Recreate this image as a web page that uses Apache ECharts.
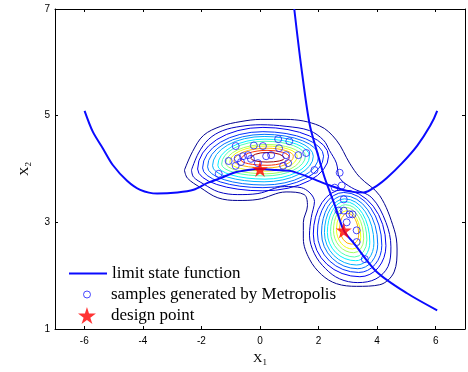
<!DOCTYPE html>
<html>
<head>
<meta charset="utf-8">
<script src="https://cdn.jsdelivr.net/npm/echarts@6/dist/echarts.min.js"></script>
<style>html,body{margin:0;padding:0;background:#fff}#main{width:468px;height:372px}</style>
</head>
<body>
<div id="main"></div>
<script>
var xTicks = [-6, -4, -2, 0, 2, 4, 6];
var yTicks = [1, 3, 5, 7];

// limit state function, two branches
var limitLeft = [[-5.99,5.09],[-5.71,4.70],[-5.37,4.39],[-5.02,4.07],[-4.54,3.78],[-4.09,3.61],[-3.51,3.54],
  [-2.82,3.56],[-2.27,3.61],[-1.79,3.74],[-1.34,3.83],[-0.89,3.93],[-0.41,3.98],[0,4.0],[0.55,3.98],
  [1.07,3.96],[1.75,3.83],[2.34,3.70],[2.96,3.59],[3.54,3.56],[4.0,3.69],[4.33,3.83],[4.85,4.11],
  [5.37,4.44],[5.81,4.81],[6.05,5.09]];
var limitRight = [[1.17,7.0],[1.41,5.91],[1.69,4.85],[1.96,4.30],[2.2,3.85],[2.55,3.33],[2.86,2.85],
  [3.23,2.59],[3.99,2.07],[5.02,1.67],[6.05,1.35]];

var samples = [[-1.41,3.91],[-1.07,4.15],[-0.76,4.20],[-0.58,4.24],[-0.41,4.26],[-0.83,4.43],[-0.21,4.44],
  [0.10,4.43],[-0.83,4.06],[-0.65,4.13],[-0.07,4.11],[0.21,4.24],[0.38,4.26],[0.65,4.39],[0.62,4.56],
  [1.00,4.52],[0.89,4.26],[0.96,4.11],[0.79,4.06],[1.31,4.26],[1.58,4.30],[1.86,3.98],[2.72,3.93],
  [2.79,3.69],[2.55,3.65],[-0.31,4.19],[2.86,3.43],[2.68,3.22],[2.86,3.22],[3.06,3.15],[3.16,3.15],
  [2.96,3.00],[3.30,2.85],[3.30,2.63],[3.58,2.31]];

var designPoints = [[0, 4.0], [2.86, 2.85]];

// contour levels, outer to inner
var levelColors = ['#000090','#0000c0','#0000f0','#0030ff','#0070ff','#00b0ff','#00f0ff',
  '#50ffb0','#a0ff60','#f0ff10','#ffb000','#ff3000','#a00000'];

// two outer levels enclose both clusters
var outer0 = [[-2.58,3.98],[-2.30,4.33],[-1.93,4.63],[-1.34,4.80],[-0.65,4.89],[0.03,4.93],[0.89,4.93],
  [2.03,4.81],[2.61,4.54],[3.06,4.11],[3.40,3.85],[4.09,3.50],[4.58,2.87],[4.68,2.50],[4.58,2.07],
  [4.09,1.83],[3.30,1.80],[2.61,1.85],[2.10,2.02],[1.69,2.31],[1.48,2.69],[1.48,3.00],[1.62,3.31],
  [1.51,3.52],[0.89,3.57],[-0.07,3.43],[-0.76,3.41],[-1.44,3.46],[-2.03,3.65],[-2.48,3.83],[-2.58,3.98]];
var outer1 = [[-2.34,3.98],[-2.10,4.30],[-1.75,4.56],[-1.27,4.72],[-0.65,4.80],[0.03,4.83],[0.89,4.80],
  [1.69,4.72],[2.17,4.54],[2.37,4.35],[2.61,4.11],[2.72,3.83],[3.13,3.65],[3.82,3.46],[4.30,3.00],
  [4.47,2.54],[4.37,2.17],[3.96,1.94],[3.34,1.87],[2.72,1.94],[2.24,2.13],[1.86,2.41],[1.69,2.76],
  [1.75,3.09],[1.86,3.39],[1.41,3.65],[0.83,3.67],[-0.07,3.54],[-0.76,3.52],[-1.41,3.57],[-1.93,3.72],
  [-2.27,3.85],[-2.34,3.98]];

// inner rings: left, top, right, bottom extreme points [x,y,x,y,x,y,x,y], from level 2 up
var leftRings = [
  [-2.13,4.00, 0.10,4.78, 2.34,4.24, 0.10,3.59],
  [-1.96,4.02, 0.10,4.70, 2.17,4.24, 0.10,3.65],
  [-1.79,4.04, 0.14,4.65, 2.00,4.24, 0.14,3.70],
  [-1.62,4.06, 0.14,4.61, 1.82,4.24, 0.14,3.76],
  [-1.44,4.07, 0.17,4.56, 1.69,4.24, 0.17,3.81],
  [-1.31,4.09, 0.17,4.52, 1.55,4.24, 0.17,3.87],
  [-1.17,4.11, 0.21,4.46, 1.41,4.24, 0.21,3.91],
  [-1.03,4.13, 0.21,4.43, 1.27,4.24, 0.21,3.96],
  [-0.89,4.15, 0.24,4.39, 1.14,4.24, 0.24,4.02],
  [-0.65,4.17, 0.24,4.35, 1.00,4.22, 0.24,4.07],
  [-0.31,4.20, 0.24,4.31, 0.83,4.20, 0.24,4.13]
];
var rightRings = [
  [1.82,2.78, 2.82,3.61, 4.30,2.56, 3.41,1.98],
  [1.96,2.80, 2.86,3.56, 4.16,2.57, 3.37,2.06],
  [2.10,2.80, 2.86,3.50, 4.02,2.59, 3.34,2.13],
  [2.20,2.81, 2.89,3.44, 3.89,2.61, 3.30,2.20],
  [2.30,2.81, 2.89,3.39, 3.75,2.63, 3.27,2.28],
  [2.41,2.83, 2.92,3.33, 3.65,2.67, 3.23,2.35],
  [2.51,2.85, 2.92,3.28, 3.54,2.69, 3.20,2.43],
  [2.61,2.87, 2.96,3.22, 3.44,2.72, 3.16,2.50],
  [2.72,2.89, 2.99,3.17, 3.37,2.76, 3.13,2.59]
];

var starPath = 'path://M50,0 L61,35 L98,35 L68,57 L79,91 L50,70 L21,91 L32,57 L2,35 L39,35 Z';
var lineBlue = '#0a0aff';
var ringBlue = '#1a1aff';

var ringData = [];
leftRings.forEach(function (r, i) { ringData.push(r.concat([i + 2])); });
rightRings.forEach(function (r, i) { ringData.push(r.concat([i + 2])); });

function renderRing(params, api) {
  var L = api.coord([api.value(0), api.value(1)]);
  var T = api.coord([api.value(2), api.value(3)]);
  var R = api.coord([api.value(4), api.value(5)]);
  var B = api.coord([api.value(6), api.value(7)]);
  var d = 'M' + L[0] + ' ' + L[1] +
    ' A' + (T[0] - L[0]) + ' ' + (L[1] - T[1]) + ' 0 0 1 ' + T[0] + ' ' + T[1] +
    ' A' + (R[0] - T[0]) + ' ' + (R[1] - T[1]) + ' 0 0 1 ' + R[0] + ' ' + R[1] +
    ' A' + (R[0] - B[0]) + ' ' + (B[1] - R[1]) + ' 0 0 1 ' + B[0] + ' ' + B[1] +
    ' A' + (B[0] - L[0]) + ' ' + (B[1] - L[1]) + ' 0 0 1 ' + L[0] + ' ' + L[1] + ' Z';
  return {
    type: 'path',
    shape: { pathData: d },
    style: { fill: 'none', stroke: levelColors[api.value(8)], lineWidth: 1 },
    silent: true
  };
}

var serif = 'Liberation Serif';
var legendText = { fontFamily: serif, fontSize: 17, color: '#000' };
var nameRich = {
  x: { fontFamily: serif, fontSize: 13, color: '#000' },
  s: { fontFamily: serif, fontSize: 9, color: '#000', padding: [8, 0, 0, 0] }
};
var axisBase = {
  type: 'value',
  axisLine: { onZero: false, lineStyle: { color: '#000', width: 1 } },
  splitLine: { show: false }
};

var myChart = echarts.init(document.getElementById('main'));
var option = {
  animation: false,
  grid: { left: 55, right: 3, top: 9, bottom: 40 },
  legend: [
    { data: [{ name: 'limit state function', icon: 'rect', itemStyle: { color: lineBlue } }],
      left: 64, top: 260, itemWidth: 38, itemHeight: 2, selectedMode: false, textStyle: legendText },
    { data: [{ name: 'samples generated by Metropolis', icon: 'circle',
        itemStyle: { color: 'rgba(0,0,0,0)', borderColor: ringBlue, borderWidth: 1 } }],
      left: 78, top: 281, itemWidth: 38, itemHeight: 7, selectedMode: false, textStyle: legendText },
    { data: [{ name: 'design point', icon: starPath, itemStyle: { color: '#ff0000' } }],
      left: 73, top: 302, itemWidth: 38, itemHeight: 17, selectedMode: false, textStyle: legendText }
  ],
  xAxis: [
    Object.assign({}, axisBase, {
      min: -7, max: 7, position: 'bottom',
      axisTick: { inside: true, length: 3, customValues: xTicks, lineStyle: { color: '#000' } },
      axisLabel: { customValues: xTicks, color: '#000', fontSize: 10, fontFamily: 'Liberation Sans', margin: 7 },
      name: '{x|X}{s|1}', nameLocation: 'middle', nameGap: 21,
      nameTextStyle: { rich: nameRich }
    }),
    Object.assign({}, axisBase, {
      min: -7, max: 7, position: 'top',
      axisTick: { inside: true, length: 3, customValues: xTicks, lineStyle: { color: '#000' } },
      axisLabel: { show: false }
    })
  ],
  yAxis: [
    Object.assign({}, axisBase, {
      min: 1, max: 7, position: 'left',
      axisTick: { inside: true, length: 3, customValues: yTicks, lineStyle: { color: '#000' } },
      axisLabel: { customValues: yTicks, color: '#000', fontSize: 10, fontFamily: 'Liberation Sans', margin: 5 },
      name: '{x|X}{s|2}', nameLocation: 'middle', nameGap: 19, nameRotate: 90,
      nameTextStyle: { rich: nameRich }
    }),
    Object.assign({}, axisBase, {
      min: 1, max: 7, position: 'right',
      axisTick: { inside: true, length: 3, customValues: yTicks, lineStyle: { color: '#000' } },
      axisLabel: { show: false }
    })
  ],
  series: [
    { name: 'c0', type: 'line', data: outer0, smooth: 0.35, symbol: 'none', silent: true,
      lineStyle: { color: levelColors[0], width: 1 } },
    { name: 'c1', type: 'line', data: outer1, smooth: 0.35, symbol: 'none', silent: true,
      lineStyle: { color: levelColors[1], width: 1 } },
    { name: 'rings', type: 'custom', renderItem: renderRing, data: ringData, clip: true, silent: true },
    { name: 'samples generated by Metropolis', type: 'scatter', data: samples, symbol: 'circle', symbolSize: 7,
      itemStyle: { color: 'rgba(0,0,0,0)', borderColor: ringBlue, borderWidth: 1 }, z: 3 },
    { name: 'limit state function', type: 'line', data: limitLeft, smooth: 0.3, symbol: 'none',
      lineStyle: { color: lineBlue, width: 2 }, itemStyle: { color: lineBlue }, z: 4 },
    { name: 'limit state function', type: 'line', data: limitRight, smooth: 0.3, symbol: 'none',
      lineStyle: { color: lineBlue, width: 2 }, itemStyle: { color: lineBlue }, z: 4 },
    { name: 'design point', type: 'scatter', data: designPoints, symbol: starPath, symbolSize: 16,
      itemStyle: { color: '#ff0000' }, z: 5 }
  ]
};
myChart.setOption(option);
</script>
</body>
</html>
